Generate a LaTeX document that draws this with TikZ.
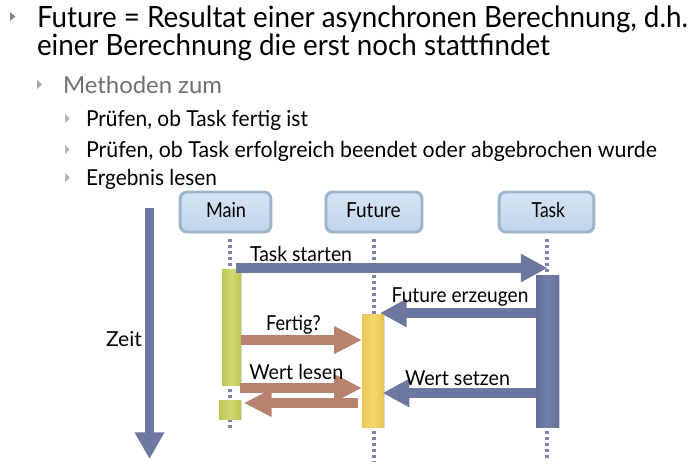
\documentclass[tikz,border=0pt]{standalone}
\usepackage{fontspec}
\setmainfont{Lato}
\usepackage{graphicx}
\usetikzlibrary{arrows.meta,shadows}
\definecolor{arrblue}{RGB}{108,120,159}
\definecolor{salmon}{RGB}{183,130,110}
\definecolor{lifec}{RGB}{122,132,172}
\definecolor{boxfillT}{RGB}{214,228,243}
\definecolor{boxfillB}{RGB}{192,213,235}
\definecolor{boxdraw}{RGB}{158,180,202}
\definecolor{greenA}{RGB}{188,196,82}
\definecolor{greenB}{RGB}{210,218,112}
\definecolor{yellowA}{RGB}{232,196,84}
\definecolor{yellowB}{RGB}{246,216,110}
\definecolor{taskA}{RGB}{100,112,152}
\definecolor{taskB}{RGB}{114,126,166}
\definecolor{bulletc}{RGB}{130,134,150}
\definecolor{lvltwo}{RGB}{112,112,112}
\newcommand{\fitto}[2]{\resizebox{#1}{\height}{#2}}
\newcommand{\lf}{\fontsize{15.5}{18}\selectfont}
\tikzset{
  txt/.style={anchor=base west,inner sep=0pt,outer sep=0pt},
  actor/.style={draw=boxdraw,line width=2.2pt,rounded corners=5pt,top color=boxfillT,bottom color=boxfillB,
     drop shadow={opacity=0.25,shadow xshift=0.8pt,shadow yshift=-1pt},
     inner sep=0pt,minimum height=30pt},
  lifeline/.style={draw=lifec,line width=2.3pt,dash pattern=on 2.2pt off 2.3pt},
  bar/.style={inner sep=0pt,outer sep=0pt,drop shadow={opacity=0.25,shadow xshift=0.8pt,shadow yshift=-0.8pt}},
  fatblue/.style={draw=arrblue,line width=6.8pt,-{Triangle[length=20pt,width=20pt]}},
  fatsalmon/.style={draw=salmon,line width=6.8pt,-{Triangle[length=21pt,width=19.5pt]}},
  bul/.style={fill=bulletc}
}
\begin{document}
\begin{tikzpicture}[x=0.75pt,y=-0.75pt]
\useasboundingbox (0,0) rectangle (695,468);
% text
\fill[bul] (10,12) -- (15.5,16.5) -- (10,21) -- cycle;
\node[txt] (t1) at (37,27) {\fitto{488.25pt}{\fontsize{22}{26}\selectfont Future = Resultat einer asynchronen Berechnung, d.h.}};
\node[txt] (t2) at (37,55) {\fitto{384.75pt}{\fontsize{22}{26}\selectfont einer Berechnung die erst noch stattfindet}};
\fill[bul,fill=bulletc!70] (37,80) -- (42,84.5) -- (37,89) -- cycle;
\node[txt,text=lvltwo] (t3) at (63,93) {\fitto{119.25pt}{\fontsize{17.6}{21}\selectfont Methoden zum}};
\fill[bul,fill=bulletc!60] (65,114) -- (70,118.5) -- (65,123) -- cycle;
\node[txt] (t4) at (86,126) {\fitto{166.5pt}{\fontsize{16.5}{19}\selectfont Prüfen, ob Task fertig ist}};
\fill[bul,fill=bulletc!60] (65,145) -- (70,149.5) -- (65,154) -- cycle;
\node[txt] (t5) at (86,157) {\fitto{428.25pt}{\fontsize{16.5}{19}\selectfont Prüfen, ob Task erfolgreich beendet oder abgebrochen wurde}};
\fill[bul,fill=bulletc!60] (65,173) -- (70,177.5) -- (65,182) -- cycle;
\node[txt] (t6) at (86,185) {\fitto{98.25pt}{\fontsize{16.5}{19}\selectfont Ergebnis lesen}};
% actors
\node[actor,minimum width=68pt] (main) at (225.5,212) {};
\node[actor,minimum width=72pt] (future) at (374,212) {};
\node[actor,minimum width=71pt] (task) at (546.5,212) {};
\node[txt] (mainl) at (206,217.3) {\fitto{30pt}{\lf Main}};
\node[txt] (futl) at (346,217.3) {\fitto{41pt}{\lf Future}};
\node[txt] (taskl) at (531.7,217.3) {\fitto{25pt}{\lf Task}};
% lifeline ends
\coordinate (mainEnd) at (230,430);
\coordinate (futEnd) at (374,462);
\coordinate (taskEnd) at (547,460);
\draw[lifeline] ([yshift=-4pt]main.south -| mainEnd) -- (mainEnd);
\draw[lifeline] ([yshift=-4pt]future.south -| futEnd) -- (futEnd);
\draw[lifeline] ([yshift=-4pt]task.south -| taskEnd) -- (taskEnd);
% time arrow
\coordinate (zs) at (149.5,208);
\coordinate (ze) at (149.5,459);
\draw[draw=arrblue,line width=6.8pt,-{Triangle[length=20pt,width=21pt]}] (zs) -- (ze);
\node[txt] (zeit) at (106,346) {\fitto{27pt}{\lf Zeit}};
% activation bars
\node[bar,minimum width=14.25pt,minimum height=87pt,left color=greenA,right color=greenA,middle color=greenB] (mbar) at (231.5,327) {};
\node[bar,minimum width=16.5pt,minimum height=14.25pt,left color=greenA,right color=greenA,middle color=greenB] (mbar2) at (230,409.5) {};
\node[bar,minimum width=16.5pt,minimum height=84.75pt,left color=yellowA,right color=yellowA,middle color=yellowB] (fbar) at (373,370.5) {};
\node[bar,minimum width=17.25pt,minimum height=114pt,left color=taskA,right color=taskA,middle color=taskB] (tbar) at (547.5,351) {};
% messages
\coordinate (ts) at (236,268);
\draw[fatblue] (ts) -- (tbar.north |- ts);
\node[txt] (tsl) at (250,261.7) {\fitto{76.5pt}{\lf Task starten}};
\coordinate (fe) at (536,313);
\draw[fatblue] (tbar.west |- fe) -- ([xshift=-3pt]fbar.east |- fe);
\node[txt] (fel) at (391.7,302.7) {\fitto{102.5pt}{\lf Future erzeugen}};
\coordinate (fq) at (241,340);
\draw[fatsalmon] (mbar.east |- fq) -- (fbar.west |- fq);
\node[txt] (fql) at (266,330.7) {\fitto{41pt}{\lf Fertig?}};
\coordinate (wl) at (240,388);
\draw[fatsalmon] (wl) -- (fbar.west |- wl);
\coordinate (wr) at (358,403);
\draw[fatsalmon] (wr) -- ([xshift=2pt]mbar2.east |- wr);
\node[txt] (wll) at (249.3,379) {\fitto{70.5pt}{\lf Wert lesen}};
\coordinate (ws) at (536,393);
\draw[fatblue] (tbar.west |- ws) -- ([xshift=-1pt]fbar.east |- ws);
\node[txt] (wsl) at (405,385) {\fitto{78.75pt}{\lf Wert setzen}};
\end{tikzpicture}
\end{document}
